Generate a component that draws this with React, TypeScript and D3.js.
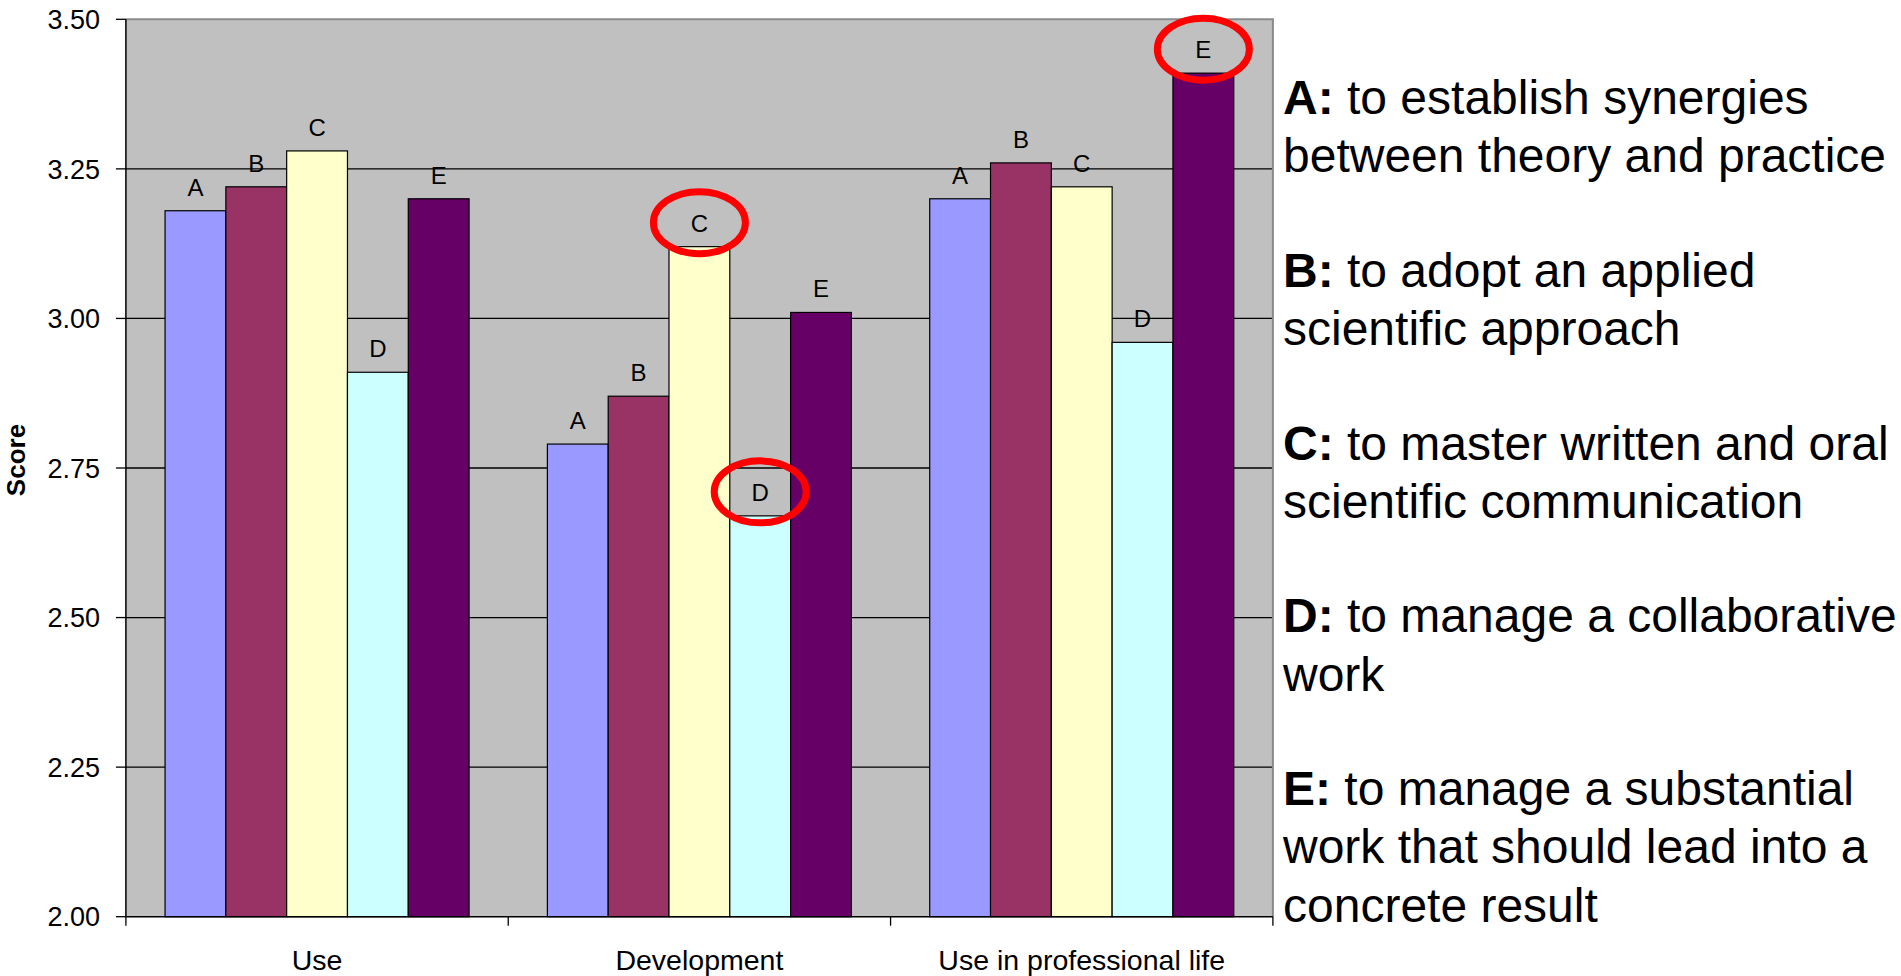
import * as d3 from "d3";
import { useEffect, useRef } from "react";

const categories = ["Use", "Development", "Use in professional life"];
const seriesKeys = ["A", "B", "C", "D", "E"];
const seriesColors = ["#9999FF", "#993366", "#FFFFCC", "#CCFFFF", "#660066"];

const valuesA = [3.18, 2.79, 3.2];
const valuesB = [3.22, 2.87, 3.26];
const valuesC = [3.28, 3.12, 3.22];
const valuesD = [2.91, 2.67, 2.96];
const valuesE = [3.2, 3.01, 3.41];

const yTicks = [2.0, 2.25, 2.5, 2.75, 3.0, 3.25, 3.5];

// circled labels: [category, series]
const highlights: [string, string][] = [
  ["Development", "C"],
  ["Development", "D"],
  ["Use in professional life", "E"],
];

const legendItems: [string, string[]][] = [
  ["A:", ["to establish synergies", "between theory and practice"]],
  ["B:", ["to adopt an applied", "scientific approach"]],
  ["C:", ["to master written and oral", "scientific communication"]],
  ["D:", ["to manage a collaborative", "work"]],
  ["E:", ["to manage a substantial", "work that should lead into a", "concrete result"]],
];

const FONT = "'Liberation Sans', Arial, sans-serif";

export default function App() {
  const svgRef = useRef<SVGSVGElement>(null);
  const width = 1901;
  const height = 976;

  useEffect(() => {
    const svg = d3.select(svgRef.current);
    svg.selectAll("*").remove();

    const plot = { left: 125.9, right: 1272.9, top: 19.3, bottom: 916.7 };
    const seriesValues = [valuesA, valuesB, valuesC, valuesD, valuesE];

    const x0 = d3.scaleBand().domain(categories).range([plot.left, plot.right]).padding(0);
    const x1 = d3.scaleBand().domain(seriesKeys).range([0, x0.bandwidth()])
      .paddingInner(0).paddingOuter(0.644);
    const y = d3.scaleLinear().domain([2, 3.5]).range([plot.bottom, plot.top]);

    // plot background
    svg.append("rect")
      .attr("x", plot.left).attr("y", plot.top)
      .attr("width", plot.right - plot.left).attr("height", plot.bottom - plot.top)
      .attr("fill", "#C0C0C0");

    // gridlines
    svg.append("g").selectAll("line")
      .data(yTicks.filter(t => t > 2 && t < 3.5))
      .join("line")
      .attr("x1", plot.left).attr("x2", plot.right)
      .attr("y1", d => y(d)).attr("y2", d => y(d))
      .attr("stroke", "#000").attr("stroke-width", 1.3);

    // top / right border
    svg.append("path")
      .attr("d", `M${plot.left},${plot.top}H${plot.right}V${plot.bottom}`)
      .attr("fill", "none").attr("stroke", "#8a8a8a").attr("stroke-width", 2);

    // bars
    const rows = categories.flatMap((c, ci) =>
      seriesKeys.map((k, si) => ({ cat: c, key: k, color: seriesColors[si], value: seriesValues[si][ci] })));

    svg.append("g").selectAll("rect")
      .data(rows)
      .join("rect")
      .attr("x", d => (x0(d.cat) ?? 0) + (x1(d.key) ?? 0))
      .attr("y", d => y(d.value))
      .attr("width", x1.bandwidth())
      .attr("height", d => y(2) - y(d.value))
      .attr("fill", d => d.color)
      .attr("stroke", "#000").attr("stroke-width", 1.2);

    // bar letters
    svg.append("g").selectAll("text")
      .data(rows)
      .join("text")
      .attr("x", d => (x0(d.cat) ?? 0) + (x1(d.key) ?? 0) + x1.bandwidth() / 2)
      .attr("y", d => y(d.value) - 15)
      .attr("text-anchor", "middle")
      .attr("font-family", FONT).attr("font-size", 24)
      .attr("fill", "#000")
      .text(d => d.key);

    // red circles round the highlighted letters
    svg.append("g").selectAll("ellipse")
      .data(rows.filter(r => highlights.some(([c, k]) => c === r.cat && k === r.key)))
      .join("ellipse")
      .attr("cx", d => (x0(d.cat) ?? 0) + (x1(d.key) ?? 0) + x1.bandwidth() / 2)
      .attr("cy", d => y(d.value) - 24)
      .attr("rx", 46).attr("ry", 31)
      .attr("fill", "none").attr("stroke", "#FF0000").attr("stroke-width", 7);

    // y axis
    const yAxis = svg.append("g");
    yAxis.append("line")
      .attr("x1", plot.left).attr("x2", plot.left)
      .attr("y1", plot.top).attr("y2", plot.bottom)
      .attr("stroke", "#000").attr("stroke-width", 1.5);
    yAxis.selectAll("line.tick")
      .data(yTicks)
      .join("line")
      .attr("class", "tick")
      .attr("x1", plot.left - 10).attr("x2", plot.left)
      .attr("y1", d => y(d)).attr("y2", d => y(d))
      .attr("stroke", "#000").attr("stroke-width", 1.3);
    yAxis.selectAll("text")
      .data(yTicks)
      .join("text")
      .attr("x", 100)
      .attr("y", d => y(d))
      .attr("dy", "0.36em")
      .attr("text-anchor", "end")
      .attr("font-family", FONT).attr("font-size", 27)
      .text(d => d3.format(".2f")(d));

    svg.append("text")
      .attr("transform", `translate(25,460) rotate(-90)`)
      .attr("text-anchor", "middle")
      .attr("font-family", FONT).attr("font-size", 26).attr("font-weight", "bold")
      .text("Score");

    // x axis
    const xAxis = svg.append("g");
    xAxis.append("line")
      .attr("x1", plot.left).attr("x2", plot.right)
      .attr("y1", plot.bottom).attr("y2", plot.bottom)
      .attr("stroke", "#000").attr("stroke-width", 1.5);
    const boundaries = [...categories.map(c => x0(c) ?? 0), plot.right];
    xAxis.selectAll("line.tick")
      .data(boundaries)
      .join("line")
      .attr("class", "tick")
      .attr("x1", d => d).attr("x2", d => d)
      .attr("y1", plot.bottom).attr("y2", plot.bottom + 9)
      .attr("stroke", "#000").attr("stroke-width", 1.3);
    xAxis.selectAll("text")
      .data(categories)
      .join("text")
      .attr("x", d => (x0(d) ?? 0) + x0.bandwidth() / 2)
      .attr("y", 970)
      .attr("text-anchor", "middle")
      .attr("font-family", FONT).attr("font-size", 28.5)
      .text(d => d);

    // legend text on the right
    const legend = svg.append("g").attr("font-family", FONT).attr("font-size", 48);
    const lineStep = 58.2;
    const entryStep = 172.8;
    legendItems.forEach(([label, lines], i) => {
      lines.forEach((line, j) => {
        const t = legend.append("text")
          .attr("x", 1283)
          .attr("y", 114 + i * entryStep + j * lineStep);
        if (j === 0) {
          t.append("tspan").attr("font-weight", "bold").text(label);
          t.append("tspan").text(" " + line);
        } else {
          t.text(line);
        }
      });
    });
  }, []);

  return (
    <svg
      ref={svgRef}
      width={width}
      height={height}
      viewBox={`0 0 ${width} ${height}`}
      style={{ position: "absolute", left: 0, top: 0, display: "block", background: "#fff" }}
    />
  );
}
